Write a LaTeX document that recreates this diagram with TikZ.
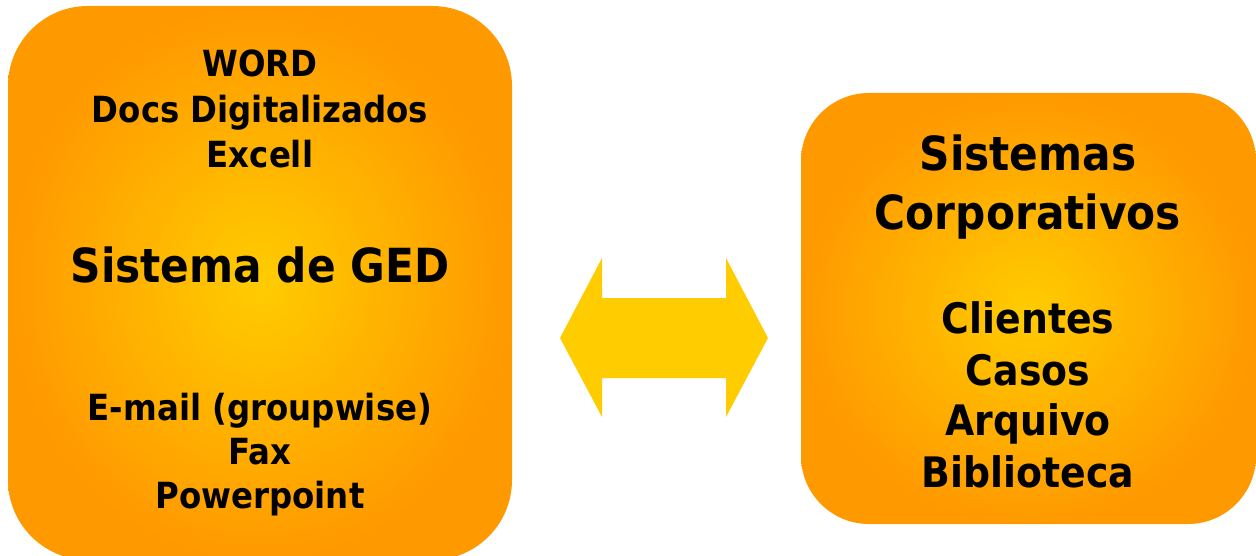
\documentclass[tikz,border=0pt]{standalone}
\usepackage{fontspec}
\setmainfont{DejaVu Sans}[FakeStretch=0.9]
\begin{document}
\begin{tikzpicture}[x=1pt,y=-1pt,
  panel/.style={inner color=boxinner, outer color=boxouter, draw=none},
  txt/.style={anchor=base, inner sep=0pt, font=\bfseries\fontsize{36}{44}\selectfont},
  txtbig/.style={anchor=base, inner sep=0pt, font=\bfseries\fontsize{47}{56}\selectfont},
  txttitle/.style={anchor=base, inner sep=0pt, font=\bfseries\fontsize{47}{56}\selectfont},
  txtmid/.style={anchor=base, inner sep=0pt, font=\bfseries\fontsize{42}{50}\selectfont}]
\definecolor{boxinner}{HTML}{FFCC00}
\definecolor{boxouter}{HTML}{FF9900}
\definecolor{arrowfill}{HTML}{FFCC00}
\useasboundingbox (0,0) rectangle (1256,556);

% left panel: GED system
\shade[panel, rounded corners=80pt] (8,6) rectangle (512,560);
\node[txt] (word)  at (260,77)  {WORD};
\node[txt] (docs)  at (260,123) {Docs Digitalizados};
\node[txt] (excel) at (260,168) {Excell};
\node[txtbig] (ged) at (260,283) {Sistema de GED};
\node[txt] (email) at (260,420) {E-mail (groupwise)};
\node[txt] (fax)   at (260,464) {Fax};
\node[txt] (ppt)   at (260,508) {Powerpoint};

% right panel: corporate systems
\shade[panel, rounded corners=68pt] (801,93) rectangle (1256,524);
\node[txttitle] (sis)  at (1028,171) {Sistemas};
\node[txttitle] (corp) at (1028,230) {Corporativos};
\node[txtmid] (cli)  at (1028,333) {Clientes};
\node[txtmid] (cas)  at (1028,385) {Casos};
\node[txtmid] (arq)  at (1028,435) {Arquivo};
\node[txtmid] (bib)  at (1028,487) {Biblioteca};

% double-headed block arrow between the panels
\fill[arrowfill] (560,338) -- (602,258) -- (602,298) -- (726,298) -- (726,258)
  -- (768,338) -- (726,417) -- (726,378) -- (602,378) -- (602,417) -- cycle;
\end{tikzpicture}
\end{document}
